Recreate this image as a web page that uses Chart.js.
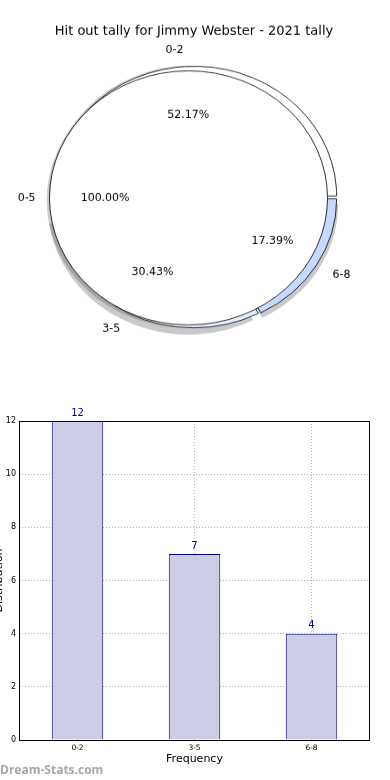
<!DOCTYPE html>
<html>
<head>
<meta charset="utf-8">
<title>Hit out tally for Jimmy Webster - 2021 tally</title>
<script src="https://cdn.jsdelivr.net/npm/chart.js@4.4.0/dist/chart.umd.min.js"></script>
<style>
    html, body { margin: 0; padding: 0; background: #fff; }
    body { width: 390px; height: 780px; position: relative; overflow: hidden; }
    /* the original pie is an ellipse, so the circle gets squashed a bit */
    #pieBox { position: absolute; left: 0; top: 0; width: 390px; height: 380px; transform: scaleY(0.914); transform-origin: 0 0; }
    #barBox { position: absolute; left: -12px; top: 380px; width: 402px; height: 400px; }
</style>
</head>
<body>
<div id="pieBox"><canvas id="pieChart" width="390" height="380"></canvas></div>
<div id="barBox"><canvas id="barChart" width="402" height="400"></canvas></div>
<script>
const chartTitle = 'Hit out tally for Jimmy Webster - 2021 tally';
const categories = ['0-2', '3-5', '6-8'];
const counts = [12, 7, 4];
const groupLabels = ['0-5'];
const groupCounts = [23];
const ringColors = ['#ffffff', '#e4ecff', '#c6d9ff'];
const yTicks = [0, 2, 4, 6, 8, 10, 12];

const SQUASH = 0.914;
const RING_SHIFT = 6;   // the outer ring is not centred on the inner pie
const FONT = "'DejaVu Sans', sans-serif";

// Chart.js goes clockwise, the original goes counter-clockwise from 3 o'clock
const ringOrder = categories.map((c, i) => i).reverse();

// text drawn on the squashed canvas is stretched back so it keeps its shape
function drawText(ctx, text, x, y, align, size) {
    ctx.save();
    ctx.translate(x, y);
    ctx.scale(1, 1 / SQUASH);
    ctx.font = size + 'px ' + FONT;
    ctx.textAlign = align;
    ctx.textBaseline = 'middle';
    ctx.fillStyle = '#000';
    ctx.fillText(text, 0, 0);
    ctx.restore();
}

function shiftOf(meta) {
    return meta.index === 0 ? RING_SHIFT : 0;
}

// sombra gris abajo a la izquierda, antes de dibujar los arcos
const pieShadow = {
    id: 'pieShadow',
    beforeDatasetsDraw(chart) {
        const ctx = chart.ctx;
        ctx.save();
        ctx.fillStyle = 'rgba(77,77,77,0.3)';
        chart.getSortedVisibleDatasetMetas().forEach(meta => {
            meta.data.forEach(arc => {
                const off = arc.options.offset || 0;
                const mid = (arc.startAngle + arc.endAngle) / 2;
                const x = arc.x + shiftOf(meta) + Math.cos(mid) * off - 2.8;
                const y = arc.y + Math.sin(mid) * off + 2.8;
                ctx.beginPath();
                ctx.moveTo(x, y);
                ctx.arc(x, y, arc.outerRadius, arc.startAngle, arc.endAngle);
                ctx.closePath();
                ctx.fill();
            });
        });
        ctx.restore();
    },
    beforeDatasetDraw(chart, args) {
        chart.ctx.save();
        chart.ctx.translate(shiftOf(args.meta), 0);
    },
    afterDatasetDraw(chart, args) {
        chart.ctx.restore();
        // contorno del circulo interior (sin la linea radial de Chart.js)
        if (args.meta.index === 1) {
            const arc = args.meta.data[0];
            const ctx = chart.ctx;
            ctx.save();
            ctx.strokeStyle = '#000';
            ctx.lineWidth = 0.8;
            ctx.beginPath();
            ctx.arc(arc.x, arc.y, arc.outerRadius, 0, Math.PI * 2);
            ctx.stroke();
            ctx.restore();
        }
    }
};

const pieLabels = {
    id: 'pieLabels',
    afterDraw(chart) {
        const ctx = chart.ctx;
        drawText(ctx, chartTitle, 194, 34.5, 'center', 13);
        chart.getSortedVisibleDatasetMetas().forEach(meta => {
            const isRing = meta.index === 0;
            const names = isRing ? ringOrder.map(i => categories[i]) : groupLabels;
            const values = isRing ? ringOrder.map(i => counts[i]) : groupCounts;
            const total = values.reduce((a, b) => a + b, 0);
            meta.data.forEach((arc, i) => {
                const off = arc.options.offset || 0;
                const mid = (arc.startAngle + arc.endAngle) / 2;
                const c = Math.cos(mid), s = Math.sin(mid);
                const R = arc.outerRadius;
                const cx = arc.x + shiftOf(meta);
                const align = c > 0 ? 'left' : 'right';
                drawText(ctx, names[i], cx + c * (1.1 * R + off), arc.y + s * (1.1 * R + off), align, 11);
                const pct = (values[i] / total * 100).toFixed(2) + '%';
                drawText(ctx, pct, cx + c * (0.6 * R + off), arc.y + s * (0.6 * R + off), 'center', 11);
            });
        });
    }
};

new Chart(document.getElementById('pieChart'), {
    type: 'doughnut',
    data: {
        labels: ringOrder.map(i => categories[i]),
        datasets: [{
            // anillo exterior: 140.5 de radio, 14 de ancho (casi todo tapado)
            data: ringOrder.map(i => counts[i]),
            backgroundColor: ringOrder.map(i => ringColors[i]),
            borderColor: '#000',
            borderWidth: 0.8,
            offset: 7,
            radius: 140.5,
            cutout: '80.07%',
            weight: 1,
            order: 1
        }, {
            // pie interior completo, radio 139
            data: groupCounts,
            backgroundColor: '#ffffff',
            borderWidth: 0,
            offset: 0,
            radius: 278,
            cutout: 0,
            weight: 1,
            order: 0
        }]
    },
    options: {
        responsive: false,
        animation: false,
        events: [],
        rotation: 90,
        layout: { padding: { top: 53, left: 0, right: 13, bottom: 0 } },
        plugins: { legend: { display: false }, tooltip: { enabled: false } }
    },
    plugins: [pieShadow, pieLabels]
});

// marco negro, numeros sobre las barras y la marca de agua
const barExtras = {
    id: 'barExtras',
    afterDraw(chart) {
        const ctx = chart.ctx;
        const a = chart.chartArea;
        ctx.save();
        ctx.strokeStyle = '#000';
        ctx.lineWidth = 1;
        ctx.strokeRect(a.left + 0.5, a.top + 0.5, a.right - a.left - 1, a.bottom - a.top);
        ctx.font = '10px ' + FONT;
        ctx.fillStyle = '#000080';
        ctx.textAlign = 'center';
        ctx.textBaseline = 'bottom';
        chart.getDatasetMeta(0).data.forEach((bar, i) => {
            ctx.fillText(String(counts[i]), bar.x, bar.y - 3);
        });
        ctx.font = "bold 12px 'Open Sans', sans-serif";
        ctx.fillStyle = '#a8a8a8';
        ctx.textAlign = 'left';
        ctx.textBaseline = 'middle';
        ctx.fillText('Dream-Stats.com', 12, 391);
        ctx.restore();
    }
};

new Chart(document.getElementById('barChart'), {
    type: 'bar',
    data: {
        labels: categories,
        datasets: [{
            data: counts,
            backgroundColor: '#ccccE4',
            borderColor: '#000080',
            borderWidth: 1,
            barPercentage: 0.44,
            categoryPercentage: 1
        }]
    },
    options: {
        responsive: false,
        animation: false,
        events: [],
        layout: { padding: { top: 41, right: 20, bottom: 10, left: 0 } },
        plugins: { legend: { display: false }, tooltip: { enabled: false } },
        scales: {
            x: {
                grid: { offset: false, color: '#b4b4b4', drawTicks: false },
                border: { display: false, dash: [1, 2] },
                ticks: { font: { size: 7.5, family: FONT }, color: '#000', padding: 4 },
                title: { display: true, text: 'Frequency', font: { size: 11, family: FONT }, color: '#000', padding: { top: 0, bottom: 4 } },
                afterFit(scale) { scale.height = 30; }
            },
            y: {
                min: yTicks[0],
                max: yTicks[yTicks.length - 1],
                afterBuildTicks(scale) { scale.ticks = yTicks.map(v => ({ value: v })); },
                grid: { color: '#b4b4b4', drawTicks: false },
                border: { display: false, dash: [1, 2] },
                ticks: { font: { size: 8, family: FONT }, color: '#000', padding: 3 },
                title: { display: true, text: 'Distribution', font: { size: 11, family: FONT }, color: '#000', padding: { top: 5, bottom: 0 } },
                afterFit(scale) { scale.width = 31; }
            }
        }
    },
    plugins: [barExtras]
});
</script>
</body>
</html>
